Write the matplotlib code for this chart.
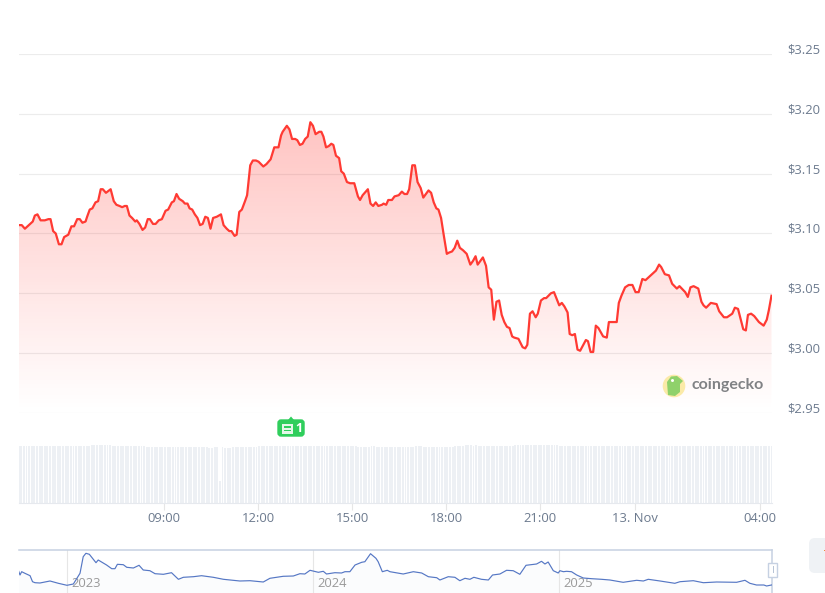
import numpy as np
import matplotlib
matplotlib.use('Agg')
from matplotlib import pyplot as plt
from matplotlib import transforms as mtrans
from matplotlib.patches import FancyBboxPatch, Circle, Rectangle, Polygon

# price series, minutes since 00:00 on 12 Nov
minutes = [
    262, 268, 274, 284, 289, 293, 298, 304, 312, 319, 323, 328, 333, 339, 344, 349, 357, 363, 368, 374,
    379, 384, 390, 393, 398, 403, 409, 414, 419, 423, 429, 438, 444, 449, 455, 460, 465, 469, 474, 479,
    485, 488, 493, 499, 504, 509, 513, 519, 524, 530, 536, 543, 548, 555, 559, 564, 569, 576, 580, 585,
    589, 594, 599, 604, 609, 614, 619, 624, 629, 634, 641, 649, 654, 660, 665, 669, 675, 679, 684, 689,
    695, 699, 705, 710, 716, 721, 730, 736, 744, 751, 759, 764, 767, 775, 780, 785, 791, 795, 800, 805,
    810, 815, 820, 825, 830, 837, 841, 845, 850, 855, 860, 864, 869, 875, 879, 884, 890, 896, 904, 911,
    915, 920, 930, 935, 940, 945, 950, 957, 960, 965, 969, 976, 981, 989, 995, 1000, 1005, 1009, 1015, 1020,
    1025, 1031, 1036, 1041, 1046, 1051, 1056, 1061, 1065, 1070, 1075, 1081, 1085, 1091, 1096, 1101, 1106, 1112, 1119, 1126,
    1131, 1136, 1140, 1150, 1156, 1161, 1166, 1171, 1176, 1181, 1186, 1191, 1196, 1201, 1206, 1210, 1218, 1226, 1231, 1235,
    1240, 1245, 1251, 1255, 1261, 1267, 1271, 1280, 1286, 1296, 1301, 1306, 1312, 1316, 1321, 1326, 1331, 1336, 1347, 1351,
    1356, 1361, 1366, 1371, 1380, 1387, 1391, 1400, 1406, 1410, 1415, 1422, 1429, 1436, 1442, 1448, 1455, 1461, 1476, 1481,
    1487, 1491, 1498, 1506, 1512, 1521, 1526, 1537, 1542, 1547, 1553, 1562, 1568, 1572, 1577, 1586, 1597, 1602, 1611, 1617,
    1627, 1632, 1638, 1648, 1653, 1657, 1663, 1669, 1678, 1687, 1693, 1697, 1702]
price = [
    3.107, 3.107, 3.104, 3.108, 3.110, 3.115, 3.116, 3.111, 3.111, 3.112, 3.112, 3.102, 3.100, 3.091, 3.091, 3.097, 3.099, 3.106, 3.106, 3.112,
    3.112, 3.109, 3.110, 3.114, 3.120, 3.121, 3.126, 3.127, 3.137, 3.137, 3.134, 3.137, 3.127, 3.124, 3.123, 3.122, 3.123, 3.123, 3.115, 3.113,
    3.110, 3.111, 3.108, 3.103, 3.105, 3.112, 3.112, 3.108, 3.108, 3.111, 3.112, 3.119, 3.120, 3.126, 3.127, 3.133, 3.129, 3.127, 3.125, 3.125,
    3.121, 3.120, 3.116, 3.113, 3.107, 3.108, 3.114, 3.113, 3.104, 3.113, 3.114, 3.116, 3.107, 3.104, 3.102, 3.102, 3.098, 3.099, 3.118, 3.120,
    3.127, 3.132, 3.157, 3.161, 3.161, 3.160, 3.156, 3.158, 3.162, 3.172, 3.172, 3.182, 3.185, 3.190, 3.187, 3.179, 3.179, 3.178, 3.174, 3.175,
    3.179, 3.181, 3.193, 3.190, 3.183, 3.185, 3.185, 3.181, 3.172, 3.173, 3.175, 3.174, 3.165, 3.163, 3.152, 3.150, 3.143, 3.142, 3.142, 3.131,
    3.128, 3.132, 3.137, 3.125, 3.123, 3.126, 3.123, 3.124, 3.125, 3.124, 3.128, 3.128, 3.131, 3.132, 3.135, 3.133, 3.133, 3.137, 3.157, 3.157,
    3.143, 3.138, 3.130, 3.133, 3.136, 3.134, 3.126, 3.121, 3.120, 3.113, 3.099, 3.083, 3.084, 3.085, 3.088, 3.094, 3.088, 3.086, 3.083, 3.074,
    3.077, 3.081, 3.074, 3.080, 3.073, 3.055, 3.053, 3.028, 3.043, 3.044, 3.032, 3.026, 3.022, 3.021, 3.014, 3.013, 3.012, 3.005, 3.004, 3.007,
    3.033, 3.035, 3.030, 3.033, 3.044, 3.046, 3.046, 3.050, 3.051, 3.040, 3.042, 3.039, 3.034, 3.016, 3.015, 3.016, 3.003, 3.002, 3.011, 3.010,
    3.001, 3.001, 3.023, 3.021, 3.014, 3.013, 3.026, 3.026, 3.026, 3.042, 3.048, 3.055, 3.057, 3.057, 3.051, 3.051, 3.062, 3.061, 3.067, 3.069,
    3.074, 3.072, 3.066, 3.065, 3.058, 3.054, 3.056, 3.051, 3.047, 3.055, 3.056, 3.054, 3.043, 3.040, 3.038, 3.042, 3.041, 3.035, 3.030, 3.030,
    3.033, 3.038, 3.037, 3.020, 3.019, 3.032, 3.033, 3.031, 3.026, 3.023, 3.028, 3.036, 3.048]

# one volume bar every 5 minutes
volume = [
    57, 57, 57, 57, 57, 57, 57, 57, 57, 57, 57, 57,
    57, 57, 57, 57, 57, 57, 57, 57, 57, 57, 57, 57,
    57, 57, 57, 57, 58, 58, 58, 58, 58, 58, 58, 58,
    57.5, 57, 57, 57, 57, 57, 57, 57, 57, 57, 57, 57,
    57, 56.5, 56.5, 56.5, 56.5, 56.5, 56.5, 56.5, 56.5, 56.5, 56.5, 56.5,
    56.5, 56.5, 56.5, 56.5, 56.5, 56.5, 56.5, 56.5, 56.5, 56, 56, 56,
    56, 55.5, 55.5, 56, 56, 22, 56, 55.5, 55.5, 55.5, 56, 56,
    56.5, 56, 56.5, 56.5, 56.5, 56, 56.5, 56.5, 57, 57, 57, 57,
    57.5, 57.5, 57, 57, 57, 57, 57, 57, 57, 57.5, 57, 57,
    57, 57, 57, 57, 57, 57, 57, 57, 57, 57, 57, 57,
    57, 57, 57, 57, 57, 57, 57, 57, 57, 57, 56.5, 56.5,
    56.5, 56.5, 56.5, 57, 57, 56.5, 56.5, 56, 56, 56, 56, 56.5,
    56, 56, 56, 56, 56, 56, 56.5, 56.5, 57, 57, 57, 56.5,
    56, 56, 56, 56, 56, 56, 56, 56, 56, 56, 56.5, 57,
    57, 57.5, 57.5, 58, 58, 58, 57.5, 58, 57.5, 57, 57.5, 57,
    57.5, 57.5, 57.5, 57.5, 57.5, 57.5, 57.5, 57.5, 57.5, 57.5, 58, 58,
    58, 58, 58, 58, 58, 58, 58, 58, 58.5, 58.5, 58.5, 58.5,
    58, 58, 58, 57.5, 57.5, 57.5, 57.5, 57.5, 57.5, 57.5, 57, 57,
    57, 57, 57, 57, 57, 57, 57, 57, 57, 57, 57, 57,
    57, 57, 57, 57, 57, 57, 57, 57, 57, 57, 57, 57,
    57, 57, 57, 57, 57, 57, 57, 57, 57, 57.5, 57.5, 57,
    57, 57, 57, 57, 57, 57, 57.5, 57.5, 57, 57, 57, 57,
    57, 57, 57, 57, 57, 57, 57, 57, 57, 57, 57, 57,
    57.5, 57.5, 57.5, 57, 57, 57, 57, 57, 57, 57, 57, 57,
    57]

nav_year = [
    2022.802, 2022.809, 2022.816, 2022.829, 2022.850, 2022.860, 2022.870, 2022.890, 2022.931, 2022.965,
    2023.000, 2023.026, 2023.053, 2023.066, 2023.077, 2023.091, 2023.118, 2023.127, 2023.161, 2023.182,
    2023.195, 2023.205, 2023.229, 2023.243, 2023.270, 2023.293, 2023.310, 2023.337, 2023.358, 2023.392,
    2023.425, 2023.453, 2023.473, 2023.514, 2023.547, 2023.595, 2023.636, 2023.703, 2023.744, 2023.798,
    2023.825, 2023.879, 2023.920, 2023.947, 2023.967, 2023.988, 2024.022, 2024.042, 2024.055, 2024.089,
    2024.116, 2024.130, 2024.150, 2024.171, 2024.198, 2024.211, 2024.234, 2024.256, 2024.265, 2024.282,
    2024.302, 2024.313, 2024.367, 2024.408, 2024.442, 2024.469, 2024.503, 2024.516, 2024.550, 2024.577,
    2024.597, 2024.618, 2024.638, 2024.654, 2024.685, 2024.713, 2024.730, 2024.760, 2024.787, 2024.814,
    2024.841, 2024.866, 2024.909, 2024.929, 2024.943, 2024.956, 2024.977, 2024.997, 2025.004, 2025.018,
    2025.031, 2025.051, 2025.072, 2025.099, 2025.133, 2025.173, 2025.207, 2025.261, 2025.316, 2025.343,
    2025.363, 2025.411, 2025.471, 2025.492, 2025.546, 2025.587, 2025.641, 2025.722, 2025.756, 2025.776,
    2025.803, 2025.833, 2025.844, 2025.864]
nav_index = [
    23, 18, 21.3, 19.7, 17.3, 11.3, 10.3, 10, 12, 9.7,
    7.7, 9, 19.7, 36.3, 39.7, 38.7, 30.3, 33, 28, 24.3,
    24.3, 28.7, 28.3, 25.7, 25, 27.7, 23, 22.3, 19.3, 18.7,
    20.3, 13.7, 15.7, 16.3, 17.3, 15.7, 13.7, 12, 12.3, 11,
    14.7, 16.7, 17, 19.3, 19, 22.7, 20.7, 21.7, 19, 20.3,
    20, 21.3, 21.3, 28, 30.7, 31.3, 39.3, 34.7, 31.3, 21.3,
    22.7, 21.3, 19, 21.3, 20, 16.3, 15.3, 13, 16.3, 15.7,
    12.3, 14.7, 13.7, 15.7, 13.7, 13, 18, 19, 22.7, 22.3,
    18.7, 27.7, 29, 31.7, 29, 31, 22.3, 20, 22.3, 21.3,
    21.7, 21.3, 18, 15, 14.3, 13.7, 13, 10.7, 12.7, 12,
    13.7, 12, 9.7, 11.3, 12.3, 10.3, 11, 10.7, 12.7, 9.7,
    8, 8, 7, 8]
nav_years = [2023, 2024, 2025]

price_ticks = [2.95, 3.00, 3.05, 3.10, 3.15, 3.20, 3.25]
time_ticks = [540, 720, 900, 1080, 1260, 1440, 1680]
time_labels = ['09:00', '12:00', '15:00', '18:00', '21:00', '13. Nov', '04:00']
news_minutes = [783]
news_counts = ['1']

W, H = 825, 593
LEFT, RIGHT = 19, 772
TEXT_COL = '#6c7a8e'
GRID_COL = '#ececec'
plt.rcParams['font.family'] = ['Open Sans', 'DejaVu Sans']

fig = plt.figure(figsize=(W / 100, H / 100), dpi=100)
fig.patch.set_facecolor('white')
# pixel coords with origin top left, for the page furniture
px = mtrans.Affine2D().scale(1, -1).translate(0, H)


def addAxes(top, bottom):
    ax = fig.add_axes([LEFT / W, 1 - bottom / H, (RIGHT - LEFT) / W, (bottom - top) / H])
    ax.patch.set_alpha(0)
    for s in ax.spines.values():
        s.set_visible(False)
    return ax


xlim = (262.7, 1703)

# price panel
ax = addAxes(54, 413)
ax.set_xlim(xlim)
ax.set_ylim(2.95, 3.25)
ax.set_yticks(price_ticks)
ax.set_yticklabels(['$%.2f' % p for p in price_ticks])
ax.yaxis.tick_right()
ax.tick_params(axis='y', length=0, pad=11, labelsize=9.4, labelcolor=TEXT_COL)
ax.set_xticks([])
ax.grid(axis='y', color=GRID_COL, lw=0.8, zorder=0)
ax.set_axisbelow(True)
up = mtrans.ScaledTranslation(0, 5.5 / 100, fig.dpi_scale_trans)
for lab in ax.get_yticklabels():
    lab.set_transform(lab.get_transform() + up)

grad = np.zeros((256, 1, 4))
grad[:, 0, 0] = 1.0
grad[:, 0, 1] = 0.23
grad[:, 0, 2] = 0.2
grad[:, 0, 3] = np.linspace(0.30, 0.0, 256)
area = ax.fill_between(minutes, price, 2.95, color='none')
im = ax.imshow(grad, extent=(xlim[0], xlim[1], 2.952, 3.195), aspect='auto', origin='upper', zorder=1)
im.set_clip_path(area.get_paths()[0], transform=ax.transData)
ax.set_xlim(xlim)
ax.set_ylim(2.95, 3.25)
ax.plot(minutes, price, color='#ff3a33', lw=1.6, zorder=3, solid_joinstyle='round')

# volume panel
vax = addAxes(413, 503)
vax.set_xlim(xlim)
vax.set_ylim(0, 90)
vol_x = minutes[0] + 5 * np.arange(len(volume))
vax.bar(vol_x, volume, width=3.7, color='#edf0f4', zorder=1)
vax.spines['bottom'].set_visible(True)
vax.spines['bottom'].set_color('#e6e9ee')
vax.spines['bottom'].set_linewidth(0.8)
vax.set_yticks([])
vax.set_xticks(time_ticks)
vax.set_xticklabels(time_labels)
vax.tick_params(axis='x', length=5, width=0.8, color='#e6e6e6', pad=1.5, labelsize=9.4, labelcolor=TEXT_COL)

# news flag above the volume bars
for m, n in zip(news_minutes, news_counts):
    fx = vax.transData.transform((m, 0))[0]
    fig.add_artist(FancyBboxPatch((fx - 13, 420), 26, 16, boxstyle='round,pad=0,rounding_size=3',
                                  fc='#2fce5c', ec='#2fce5c', lw=1, transform=px))
    fig.add_artist(Polygon([(fx - 3, 420), (fx, 416.5), (fx + 3, 420)], fc='#2fce5c', ec='none', transform=px))
    fig.add_artist(Rectangle((fx - 9, 423.5), 11, 10, fc='#e3f7e8', ec='none', transform=px))
    fig.add_artist(Rectangle((fx - 7, 425.5), 7, 2.5, fc='#2fce5c', ec='none', transform=px))
    fig.add_artist(Rectangle((fx - 7, 429.5), 7, 1.2, fc='#2fce5c', ec='none', transform=px))
    fig.text(fx + 8, 428.5, n, color='white', fontsize=9, fontweight='bold', ha='center', va='center', transform=px)

# logo
fig.add_artist(Circle((674, 386), 11.3, fc='#fbeaa8', ec='none', transform=px))
fig.add_artist(Polygon([(668, 395), (667, 382), (671, 376.5), (677, 376), (683, 381), (680, 384), (680, 392), (675, 396)],
                       fc='#8fd16b', ec='none', transform=px))
fig.add_artist(Circle((672.5, 380.5), 1.5, fc='white', ec='none', transform=px))
fig.text(692, 385, 'coingecko', color='#808285', fontsize=11.5, fontweight='bold', family=['Lato', 'DejaVu Sans'],
         ha='left', va='center', transform=px)

# overview strip
nax = addAxes(550, 593)
nax.set_xlim(2022.805, 2025.866)
nax.set_ylim(0, 43)
nax.fill_between(nav_year, nav_index, 0, color='#4d6fbf', alpha=0.02, lw=0)
nax.plot(nav_year, nav_index, color='#5577c4', lw=0.85, zorder=3)
nax.set_xticks([])
nax.set_yticks([])
nax.spines['top'].set_visible(True)
nax.spines['top'].set_color('#c6d1e2')
nax.spines['top'].set_linewidth(1.1)
nax.spines['right'].set_visible(True)
nax.spines['right'].set_color('#c6d1e2')
nax.spines['right'].set_linewidth(1.1)
for yr in nav_years:
    nax.axvline(yr, color='#e6e6e6', lw=0.8, zorder=1)
    nax.annotate(str(yr), (yr, 0), xytext=(3, 2), textcoords='offset points', color='#9a9a9a', fontsize=9.4,
                 ha='left', va='bottom', zorder=2)

# navigator handle
fig.add_artist(Rectangle((767.5, 562.5), 9, 14, fc='white', ec='#c6d1e2', lw=1, transform=px))
fig.add_artist(Rectangle((770.5, 566), 0.8, 7, fc='#b8c4d6', ec='none', transform=px))
fig.add_artist(Rectangle((772.8, 566), 0.8, 7, fc='#b8c4d6', ec='none', transform=px))

# side button cut off by the page edge
fig.add_artist(FancyBboxPatch((809, 538), 30, 35, boxstyle='round,pad=0,rounding_size=6',
                              fc='#eff2f5', ec='none', transform=px, clip_on=True))
fig.add_artist(Rectangle((823.5, 549.5), 1.5, 1.5, fc='#f08a3c', ec='none', transform=px))

fig.savefig('out.png', dpi=100)
